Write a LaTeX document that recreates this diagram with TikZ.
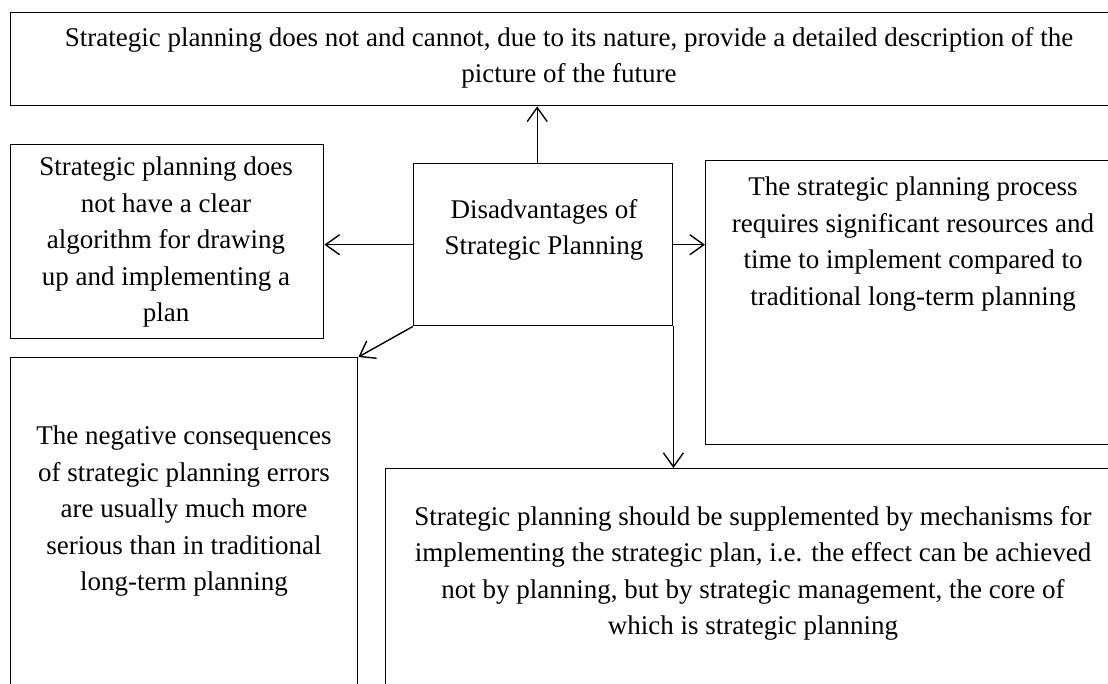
\documentclass[tikz,border=0pt]{standalone}
\usepackage{fontspec}
\setmainfont{Liberation Serif}
\usetikzlibrary{arrows.meta}
\begin{document}
\begin{tikzpicture}[x=1pt,y=-1pt,
  box/.style={draw, line width=1.4pt, rectangle, inner sep=0pt, anchor=north west},
  txt/.style={align=center, inner sep=0pt, anchor=north, font=\fontsize{27}{36.5}\selectfont},
  conn/.style={line width=1.4pt, -{Straight Barb[length=14pt,width=20pt,line width=1.4pt]}}]
\useasboundingbox (0,0) rectangle (1108,684);
\clip (0,0) rectangle (1108,684);
\fill[white] (0,0) rectangle (1108,684);
% boxes
\node[box, minimum width=1118pt, minimum height=93pt] (top) at (10,12) {};
\node[box, minimum width=313pt, minimum height=194pt] (left) at (10,144) {};
\node[box, minimum width=259pt, minimum height=162pt] (center) at (413,163) {};
\node[box, minimum width=416pt, minimum height=284pt] (right) at (705,160) {};
\node[box, minimum width=347pt, minimum height=360pt] (bl) at (10,357) {};
\node[box, minimum width=736pt, minimum height=260pt] (bottom) at (385,468) {};
% texts
\node[txt] (ttop) at (569,27) {Strategic planning does not and cannot, due to its nature, provide a detailed description of the\\picture of the future};
\node[txt] (tleft) at (166,157) {Strategic planning does\\not have a clear\\algorithm for drawing\\up and implementing a\\plan};
\node[txt] (tcenter) at (544,199) {Disadvantages of\\Strategic Planning};
\node[txt] (tright) at (913,177) {The strategic planning process\\requires significant resources and\\time to implement compared to\\traditional long-term planning};
\node[txt] (tbl) at (184,426) {The negative consequences\\of strategic planning errors\\are usually much more\\serious than in traditional\\long-term planning};
\node[txt] (tbottom) at (753,506) {Strategic planning should be supplemented by mechanisms for\\implementing the strategic plan, i.e. the effect can be achieved\\not by planning, but by strategic management, the core of\\which is strategic planning};
% connectors
\draw[conn] ([xshift=-6pt]center.north) -- ([xshift=-6pt]center.north |- top.south);
\draw[conn] (center.west) -- (center.west -| left.east);
\draw[conn] (center.east) -- (center.east -| right.west);
\draw[conn] (center.south west) -- (bl.north east);
\draw[conn] (center.south east) -- (center.south east |- bottom.north);
\end{tikzpicture}
\end{document}
